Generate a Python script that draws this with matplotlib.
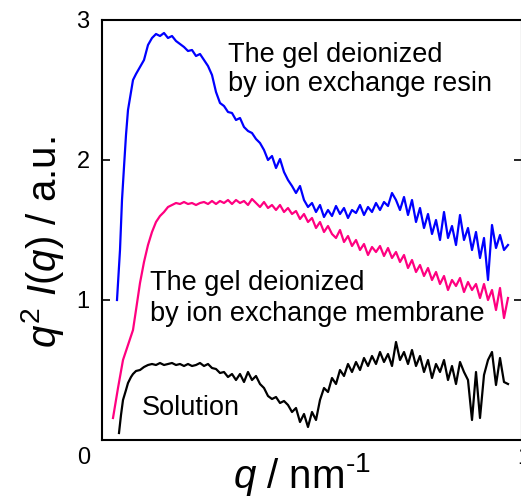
import numpy as np
import matplotlib
matplotlib.use("Agg")
import matplotlib.pyplot as plt

plt.rcParams['font.family'] = ['Liberation Sans', 'DejaVu Sans']
plt.rcParams['mathtext.fontset'] = 'custom'
plt.rcParams['mathtext.rm'] = 'Liberation Sans'
plt.rcParams['mathtext.it'] = 'Liberation Sans:italic'

# figure geometry in pixels (used only to place axes / text)
W, H = 521, 500
X0, X1, Y0, Y1 = 102, 522, 440, 20

# values, in pixel units of the original (x, y)
grid_px = [136, 140, 144, 148, 152, 156, 160, 164, 168, 172, 176, 180, 184, 188,
           192, 196, 200, 204, 208, 212, 216, 220, 224, 228, 232, 236, 240, 244,
           248, 252, 256, 260, 264, 268, 272, 276, 280, 284, 288, 292, 296, 300,
           304, 308, 312, 316, 320, 324, 328, 332, 336, 340, 344, 348, 352, 356,
           360, 364, 368, 372, 376, 380, 384, 388, 392, 396, 400, 404, 408, 412,
           416, 420, 424, 428, 432, 436, 440, 444, 448, 452, 456, 460, 464, 468,
           472, 476, 480, 484, 488, 492, 496, 500, 504, 508]

resin_head_x = [117, 120, 122, 124, 126, 128, 131, 133]
resin_head_y = [300, 250, 200, 167, 135, 110, 92, 80]
resin_y = [74, 67, 60, 45, 38, 34, 36, 33, 38, 36, 41, 44, 47, 51,
           50, 56, 54, 60, 66, 75, 92, 103, 106, 112, 113, 120, 118, 127,
           131, 133, 139, 143, 150, 160, 156, 168, 159, 172, 180, 186, 193, 186,
           200, 207, 203, 212, 205, 217, 210, 216, 206, 214, 208, 218, 210, 213,
           205, 215, 207, 212, 203, 210, 202, 206, 193, 200, 210, 197, 215, 200,
           222, 208, 228, 214, 234, 220, 240, 212, 238, 226, 245, 215, 240, 228,
           250, 232, 258, 238, 280, 225, 248, 235, 250, 245]

membrane_head_x = [113, 118, 123, 128, 133]
membrane_head_y = [418, 388, 360, 345, 330]
membrane_y = [310, 283, 262, 245, 232, 222, 216, 212, 207, 205, 203, 204, 202, 204,
              203, 205, 203, 202, 204, 201, 204, 201, 203, 200, 204, 200, 203, 201,
              205, 199, 203, 207, 202, 208, 205, 210, 205, 212, 208, 214, 211, 219,
              214, 222, 218, 228, 222, 232, 226, 234, 238, 230, 242, 236, 246, 240,
              250, 244, 255, 247, 252, 246, 256, 248, 258, 252, 262, 255, 268, 260,
              272, 265, 276, 268, 280, 272, 284, 276, 290, 280, 286, 278, 292, 282,
              290, 284, 298, 284, 300, 290, 310, 288, 318, 298]

solution_head_x = [119, 121, 123, 126, 128, 131, 133]
solution_head_y = [433, 415, 400, 390, 383, 377, 374]
solution_y = [371, 370, 367, 365, 364, 365, 363, 365, 364, 363, 365, 364, 366, 364,
              366, 365, 363, 366, 364, 368, 369, 373, 372, 377, 374, 380, 374, 382,
              372, 380, 376, 384, 388, 396, 399, 397, 403, 401, 405, 412, 408, 422,
              414, 427, 412, 420, 400, 388, 392, 378, 384, 370, 376, 364, 372, 362,
              370, 358, 366, 356, 364, 352, 362, 354, 366, 342, 360, 352, 364, 350,
              366, 356, 372, 360, 378, 364, 372, 360, 380, 366, 384, 362, 372, 380,
              420, 372, 418, 375, 360, 352, 385, 358, 382, 384]


def to_q(px):
    return (np.asarray(px, float) - X0) / (X1 - X0)


def to_val(py):
    return (Y0 - np.asarray(py, float)) / (Y0 - Y1) * 3.0


series = [
    (resin_head_x, resin_head_y, resin_y, '#0000ff'),
    (membrane_head_x, membrane_head_y, membrane_y, '#ff0080'),
    (solution_head_x, solution_head_y, solution_y, '#000000'),
]

fig = plt.figure(figsize=(W / 100, H / 100), dpi=100)
ax = fig.add_axes([X0 / W, 1 - Y0 / H, (X1 - X0) / W, (Y0 - Y1) / H])

for hx, hy, gy, col in series:
    q = to_q(list(hx) + grid_px)
    v = to_val(list(hy) + gy)
    ax.plot(q, v, color=col, lw=1.6, solid_joinstyle='round')

ax.set_xlim(0, 1)
ax.set_ylim(0, 3)

ax.set_xticks([])
ax.set_yticks([0, 1, 2, 3])
ax.set_yticklabels(['', '1', '2', '3'])
ax.tick_params(axis='y', direction='in', length=6, width=1.2, labelsize=17,
               right=True, pad=9)
for s in ax.spines.values():
    s.set_linewidth(1.5)

ax.set_xlabel('$q$ / nm$^{\u20101}$', fontsize=29)
ax.xaxis.set_label_coords((302 - X0) / (X1 - X0), -(475 - Y0) / (Y0 - Y1))
ax.xaxis.label.set_va('center')
ax.set_ylabel('$q^2$ $I$($q$) / a.u.', fontsize=29)
ax.yaxis.set_label_coords(-(X0 - 42) / (X1 - X0), (Y0 - 242) / (Y0 - Y1))
ax.yaxis.label.set_va('center')

# stray corner labels
fig.text(84 / W, 1 - 458 / H, '0', fontsize=17, ha='center', va='center')
fig.text(524 / W, 1 - 458 / H, '1', fontsize=17, ha='center', va='center')


def label(px, py, s):
    ax.text((px - X0) / (X1 - X0), (Y0 - py) / (Y0 - Y1), s, transform=ax.transAxes,
            fontsize=19.5, ha='left', va='baseline')


label(228, 62, 'The gel deionized')
label(228, 91, 'by ion exchange resin')
label(150, 290, 'The gel deionized')
label(150, 321, 'by ion exchange membrane')
label(142, 415, 'Solution')

fig.savefig('out.png', dpi=100)
